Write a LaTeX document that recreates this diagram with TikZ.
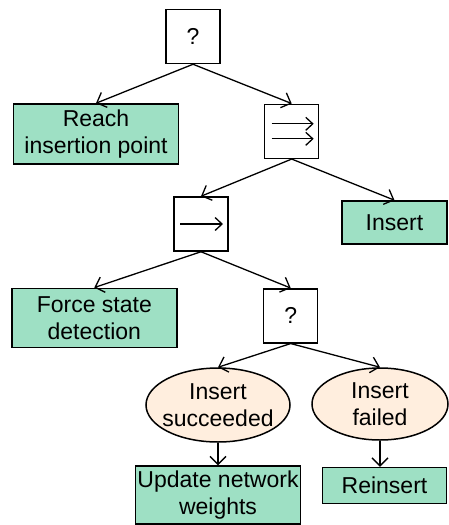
\documentclass[tikz,border=0pt]{standalone}
\usepackage{fontspec}
\setmainfont{Liberation Sans}
\usetikzlibrary{arrows.meta,shapes.geometric}
\definecolor{leafgreen}{RGB}{158,224,196}
\definecolor{condpeach}{RGB}{255,238,222}
\tikzset{
  base/.style={draw=black,line width=1.5pt,inner sep=0pt,align=center,
    font=\fontsize{23}{27}\selectfont},
  ctrl/.style={base,fill=white,minimum width=54pt,minimum height=54pt},
  leaf/.style={base,fill=leafgreen},
  cond/.style={base,ellipse,fill=condpeach,inner xsep=-6pt,inner ysep=0pt},
  edge/.style={line width=1.3pt,-{Straight Barb[length=8pt,width=16pt,line width=1.3pt]}},
  glyph/.style={line width=1.3pt,-{Straight Barb[length=7pt,width=13pt,line width=1.3pt]}}
}
\begin{document}
\begin{tikzpicture}[x=1pt,y=-1pt]
\useasboundingbox (0,0) rectangle (449,525);
% control nodes
\node[ctrl] (sel1) at (193,36.5) {?};
\node[ctrl] (seq2) at (291.7,131.3) {};
\node[ctrl] (seq1) at (201,224) {};
\node[ctrl] (sel2) at (290.7,315.8) {?};
% leaves
\node[leaf,minimum width=165pt,minimum height=60pt] (reach) at (96,134) {Reach\\insertion point};
\node[leaf,minimum width=105pt,minimum height=43pt] (ins) at (394.5,222.5) {Insert};
\node[leaf,minimum width=165pt,minimum height=59pt] (force) at (94.3,317.8) {Force state\\detection};
\node[leaf,minimum width=165pt,minimum height=58pt] (upd) at (218,495) {Update network\\weights};
\node[leaf,minimum width=124pt,minimum height=36pt] (reins) at (384.5,485.5) {Reinsert};
% conditions
\node[cond,minimum width=144pt,minimum height=74pt] (succ) at (218,405) {Insert\\succeeded};
\node[cond,minimum width=136pt,minimum height=72pt] (fail) at (380,404) {Insert\\failed};
% sequence glyphs
\draw[glyph] ([xshift=-20pt,yshift=-7.5pt]seq2.center) -- ([xshift=22pt,yshift=-7.5pt]seq2.center);
\draw[glyph] ([xshift=-20pt,yshift=7.5pt]seq2.center) -- ([xshift=22pt,yshift=7.5pt]seq2.center);
\draw[glyph] ([xshift=-21pt]seq1.center) -- ([xshift=22pt]seq1.center);
% edges
\draw[edge] (sel1.south) -- (reach.north);
\draw[edge] (sel1.south) -- (seq2.north);
\draw[edge] (seq2.south) -- (seq1.north);
\draw[edge] (seq2.south) -- (ins.north);
\draw[edge] (seq1.south) -- (force.north);
\draw[edge] (seq1.south) -- (sel2.north);
\draw[edge] (sel2.south) -- (succ.north);
\draw[edge] (sel2.south) -- (fail.north);
\draw[edge] (succ.south) -- (upd.north);
\draw[edge] (fail.south) -- (fail.south |- reins.north);
\end{tikzpicture}
\end{document}
